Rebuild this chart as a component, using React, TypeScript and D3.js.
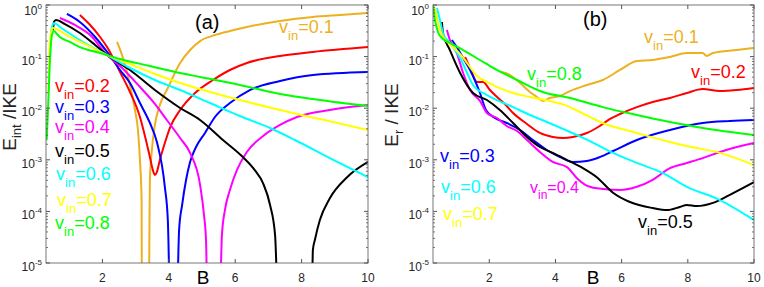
import React from 'react';
import * as d3 from 'd3';

type Pt = [number, number];

const speeds = ['0.1', '0.2', '0.3', '0.4', '0.5', '0.6', '0.7', '0.8'];
const colors = ['#EDB120', '#FF0000', '#0000FF', '#FF00FF', '#000000', '#00FFFF', '#FFFF00', '#00FF00'];
const xTicks = [2, 4, 6, 8, 10];
const yExps = [0, -1, -2, -3, -4, -5];

// panel (a): E_int / IKE, branches split where the curve drops through zero
const aOrange: Pt[][] = [
  [[2.44, 0.192], [2.59, 0.107], [2.74, 0.0503], [2.86, 0.0225], [2.98, 0.00923], [3.07, 0.00378], [3.13, 0.00099], [3.18, 0.000166], [3.19, 1e-6]],
  [[3.4, 1e-6], [3.42, 0.000106], [3.43, 0.00041], [3.49, 0.00155], [3.58, 0.00473], [3.73, 0.0115], [3.97, 0.0246], [4.34, 0.075], [4.64, 0.134], [4.94, 0.2], [5.39, 0.262], [5.84, 0.313], [6.35, 0.375], [7.35, 0.49], [8.34, 0.585], [9.16, 0.64], [10, 0.7]],
];
const aRed: Pt[][] = [
  [[1.32, 0.64], [1.63, 0.41], [1.93, 0.24], [2.14, 0.153], [2.53, 0.0503], [2.83, 0.0206], [3.13, 0.00675], [3.31, 0.00242], [3.43, 0.00113], [3.52, 0.00063], [3.58, 0.00051], [3.64, 0.00058], [3.73, 0.00099], [3.88, 0.00212], [4.03, 0.00413], [4.34, 0.00923], [4.79, 0.0197], [5.33, 0.0352], [5.84, 0.055], [6.35, 0.0752], [7.35, 0.103], [8.34, 0.123], [10, 0.153]],
];
const aBlue: Pt[][] = [
  [[0.93, 0.67], [1.32, 0.469], [1.78, 0.24], [2.14, 0.123], [2.53, 0.055], [2.83, 0.0308], [3.13, 0.0126], [3.43, 0.00517], [3.64, 0.00221], [3.88, 0.0003], [3.97, 6.8e-5], [4.03, 1e-6]],
  [[4.25, 1e-6], [4.31, 4.4e-5], [4.4, 0.000133], [4.52, 0.00041], [4.64, 0.00091], [4.82, 0.00177], [5.09, 0.00331], [5.39, 0.00675], [5.84, 0.0126], [6.44, 0.0225], [7.35, 0.0337], [8.34, 0.044], [10, 0.0503]],
];
const aMagenta: Pt[][] = [
  [[0.72, 0.56], [1.17, 0.41], [1.63, 0.262], [2.14, 0.107], [2.53, 0.0658], [3.13, 0.0258], [3.58, 0.0121], [3.94, 0.0059], [4.34, 0.00264], [4.64, 0.00136], [4.94, 0.00033], [5.06, 8.5e-5], [5.12, 2.8e-5], [5.16, 1e-6]],
  [[5.54, 1e-6], [5.6, 3.5e-5], [5.69, 0.000106], [5.84, 0.00026], [6.05, 0.00063], [6.35, 0.00142], [6.84, 0.00289], [7.35, 0.00473], [7.86, 0.00675], [8.85, 0.00923], [10, 0.0115]],
];
const aBlack: Pt[][] = [
  [[0.51, 0.328], [0.54, 0.469], [0.6, 0.512], [0.87, 0.428], [1.32, 0.287], [1.78, 0.168], [2.14, 0.107], [2.83, 0.055], [3.58, 0.0225], [4.34, 0.0101], [4.94, 0.0059], [5.63, 0.00242], [6.23, 0.00113], [6.59, 0.00063], [6.84, 0.00035], [7.05, 0.000133], [7.2, 3.5e-5], [7.28, 1e-6]],
  [[8.31, 1e-6], [8.34, 1.8e-5], [8.4, 2.8e-5], [8.55, 6.8e-5], [8.85, 0.00018], [9.37, 0.00046], [10, 0.00091]],
];
const aCyan: Pt[][] = [
  [[0.45, 0.3], [0.5, 0.41], [0.54, 0.448], [0.72, 0.375], [1.17, 0.24], [1.63, 0.16], [2.14, 0.107], [2.83, 0.0601], [3.58, 0.0352], [4.34, 0.0225], [5.24, 0.0126], [6.14, 0.00706], [7.05, 0.00413], [7.8, 0.00242], [8.85, 0.00108], [10, 0.00046]],
];
const aYellow: Pt[][] = [
  [[0.375, 0.0206], [0.405, 0.134], [0.45, 0.287], [0.51, 0.358], [0.72, 0.313], [1.02, 0.24], [1.47, 0.175], [2.14, 0.107], [2.83, 0.0719], [3.43, 0.0503], [4.34, 0.0308], [5.24, 0.0206], [6.14, 0.0144], [7.35, 0.00923], [8.55, 0.00618], [10, 0.00378]],
];
const aGreen: Pt[][] = [
  [[0.32, 0.0024], [0.36, 0.0092], [0.42, 0.086], [0.48, 0.262], [0.54, 0.313], [0.63, 0.274], [0.72, 0.24], [1.02, 0.192], [1.32, 0.153], [1.93, 0.117], [2.53, 0.0898], [3.43, 0.0657], [4.34, 0.0481], [4.94, 0.0403], [6.14, 0.0282], [7.35, 0.0188], [8.55, 0.0144], [10, 0.011]],
];

// panel (b): E_r / IKE
const bOrange: Pt[][] = [
  [[2.38, 0.0503], [2.63, 0.044], [2.93, 0.0308], [3.23, 0.0206], [3.44, 0.0165], [3.62, 0.0138], [3.83, 0.0158], [4.14, 0.0172], [4.44, 0.0215], [4.95, 0.0282], [5.43, 0.0352], [5.95, 0.055], [6.46, 0.0822], [6.94, 0.0859], [7.46, 0.0983], [7.97, 0.117], [8.45, 0.117], [8.57, 0.103], [8.76, 0.117], [9.48, 0.134], [10, 0.147]],
];
const bRed: Pt[][] = [
  [[1.27, 0.098], [1.42, 0.0601], [1.63, 0.0322], [1.81, 0.0322], [2.02, 0.0225], [2.17, 0.018], [2.47, 0.0121], [2.72, 0.00807], [3.14, 0.00494], [3.53, 0.00331], [3.92, 0.00277], [4.23, 0.00264], [4.53, 0.00277], [4.95, 0.00331], [5.34, 0.00452], [5.65, 0.00618], [5.95, 0.00772], [6.46, 0.0105], [6.94, 0.0132], [7.46, 0.0158], [7.97, 0.0197], [8.45, 0.0235], [8.97, 0.0215], [9.48, 0.0225], [10, 0.0246]],
];
const bBlue: Pt[][] = [
  [[0.87, 0.21], [1.02, 0.153], [1.21, 0.094], [1.42, 0.055], [1.72, 0.0197], [1.9, 0.00923], [2.17, 0.00646], [2.53, 0.00517], [2.93, 0.00378], [3.32, 0.00242], [3.74, 0.00155], [4.14, 0.00113], [4.53, 0.00091], [4.95, 0.00095], [5.34, 0.00113], [5.74, 0.00148], [6.46, 0.00242], [7.46, 0.00378], [8.45, 0.00517], [9.27, 0.00565], [10, 0.0059]],
];
const bMagenta: Pt[][] = [
  [[0.72, 0.328], [0.81, 0.21], [1.02, 0.117], [1.21, 0.0481], [1.42, 0.0225], [1.72, 0.0138], [1.93, 0.00807], [2.23, 0.00646], [2.53, 0.00452], [2.84, 0.00362], [3.14, 0.00242], [3.53, 0.00142], [3.92, 0.00091], [4.35, 0.00072], [4.65, 0.00044], [4.89, 0.00033], [5.25, 0.00028], [5.95, 0.00026], [6.46, 0.0003], [6.94, 0.00041], [7.46, 0.00069], [7.97, 0.00087], [8.45, 0.00108], [8.97, 0.00142], [9.48, 0.00177], [10, 0.00212]],
];
const bBlack: Pt[][] = [
  [[0.57, 0.469], [0.6, 0.287], [0.81, 0.134], [1.12, 0.0481], [1.51, 0.0197], [1.93, 0.0144], [2.32, 0.00923], [2.72, 0.00517], [3.14, 0.00277], [3.53, 0.00177], [3.92, 0.00136], [4.35, 0.00099], [4.83, 0.00069], [5.25, 0.00046], [5.74, 0.00023], [6.25, 0.000152], [6.94, 0.000116], [7.37, 0.000106], [7.76, 0.000122], [7.97, 0.000133], [8.27, 0.000127], [8.76, 0.000146], [9.27, 0.00021], [10, 0.00037]],
];
const bCyan: Pt[][] = [
  [[0.42, 0.875], [0.51, 0.512], [0.6, 0.287], [0.81, 0.184], [1.12, 0.094], [1.33, 0.0481], [1.51, 0.0282], [1.93, 0.018], [2.23, 0.0144], [2.72, 0.0105], [3.23, 0.00738], [3.74, 0.0054], [4.44, 0.00346], [5.04, 0.00231], [5.74, 0.00136], [6.46, 0.00087], [7.25, 0.00055], [7.97, 0.0003], [8.97, 0.000166], [10, 6.8e-5]],
];
const bYellow: Pt[][] = [
  [[0.36, 0.875], [0.42, 0.56], [0.51, 0.328], [0.63, 0.229], [0.81, 0.175], [1.12, 0.112], [1.33, 0.0752], [1.63, 0.0421], [1.93, 0.0322], [2.23, 0.0258], [2.72, 0.0197], [3.23, 0.0165], [3.83, 0.0138], [4.29, 0.0115], [4.74, 0.00844], [5.43, 0.00517], [6.46, 0.00331], [7.46, 0.00221], [7.97, 0.00185], [8.97, 0.00136], [10, 0.00079]],
];
const bGreen: Pt[][] = [
  [[0.3, 1], [0.36, 0.512], [0.45, 0.3], [0.57, 0.229], [0.81, 0.184], [1.21, 0.134], [1.72, 0.0859], [2.23, 0.055], [2.84, 0.0352], [3.62, 0.0206], [4.44, 0.0158], [5.43, 0.0105], [6.46, 0.00738], [7.46, 0.0054], [8.45, 0.00413], [10, 0.00303]],
];

const seriesA = [aOrange, aRed, aBlue, aMagenta, aBlack, aCyan, aYellow, aGreen];
const seriesB = [bOrange, bRed, bBlue, bMagenta, bBlack, bCyan, bYellow, bGreen];

// legend placement (pixel anchors) per speed index
const labelsA = [
  { i: 0, x: 279, y: 33, size: 18 },
  { i: 1, x: 55, y: 92, size: 18 },
  { i: 2, x: 55, y: 113, size: 18 },
  { i: 3, x: 55, y: 133, size: 18 },
  { i: 4, x: 55, y: 157, size: 18 },
  { i: 5, x: 56, y: 180, size: 18 },
  { i: 6, x: 57, y: 206, size: 18 },
  { i: 7, x: 55, y: 229, size: 18 },
];
const labelsB = [
  { i: 0, x: 644, y: 43, size: 18 },
  { i: 1, x: 691, y: 78, size: 18 },
  { i: 7, x: 527, y: 80, size: 18 },
  { i: 2, x: 440, y: 162, size: 18 },
  { i: 5, x: 441, y: 193, size: 18 },
  { i: 6, x: 443, y: 220, size: 18 },
  { i: 3, x: 530, y: 193, size: 16 },
  { i: 4, x: 638, y: 228, size: 18 },
];

const TOP = 5;
const BOTTOM = 263;
const font = '"Liberation Sans", Arial, Helvetica, sans-serif';
const axisColor = '#555';

function Legend({ x, y, size, i }: { x: number; y: number; size: number; i: number }) {
  const sub = Math.round(size * 0.72);
  return (
    <text x={x} y={y} fontSize={size} fill={colors[i]} fontFamily={font}>
      v
      <tspan dy={size * 0.38} fontSize={sub}>in</tspan>
      <tspan dy={-size * 0.38}>={speeds[i]}</tspan>
    </text>
  );
}

function Panel({ id, left, right, series, labels, tag, tagX, tagY }: {
  id: string; left: number; right: number; series: Pt[][][];
  labels: { i: number; x: number; y: number; size: number }[]; tag: string; tagX: number; tagY: number;
}) {
  const x = d3.scaleLinear().domain([0.3, 10]).range([left, right]);
  const y = d3.scaleLog().domain([1e-5, 1]).range([BOTTOM, TOP]);
  const line = d3.line<Pt>().x(d => x(d[0])).y(d => y(d[1])).curve(d3.curveMonotoneX);
  const minor: number[] = [];
  for (let e = -5; e < 0; e++) for (let k = 2; k <= 9; k++) minor.push(k * Math.pow(10, e));

  return (
    <g>
      <defs>
        <clipPath id={id}>
          <rect x={left} y={TOP} width={right - left} height={BOTTOM - TOP} />
        </clipPath>
      </defs>
      <g clipPath={`url(#${id})`}>
        {series.map((branches, si) =>
          branches.map((b, bi) => (
            <path key={`${si}-${bi}`} d={line(b) || ''} fill="none" stroke={colors[si]} strokeWidth={2} />
          ))
        )}
      </g>
      <rect x={left} y={TOP} width={right - left} height={BOTTOM - TOP} fill="none" stroke={axisColor} strokeWidth={0.8} />
      {xTicks.map(t => (
        <g key={t}>
          <line x1={x(t)} x2={x(t)} y1={BOTTOM} y2={BOTTOM - 4} stroke={axisColor} />
          <line x1={x(t)} x2={x(t)} y1={TOP} y2={TOP + 4} stroke={axisColor} />
          <text x={x(t)} y={282} fontSize={12} textAnchor="middle" fill="#262626" fontFamily={font}>{t}</text>
        </g>
      ))}
      {yExps.map(e => {
        const yy = y(Math.pow(10, e));
        const off = e === 0 ? 10 : 8;
        return (
          <g key={e}>
            <line x1={left} x2={left + 4} y1={yy} y2={yy} stroke={axisColor} />
            <line x1={right} x2={right - 4} y1={yy} y2={yy} stroke={axisColor} />
            <text x={left - 4} y={yy + off} fontSize={12} textAnchor="end" fill="#262626" fontFamily={font}>
              10<tspan dy={-6} fontSize={8}>{e}</tspan>
            </text>
          </g>
        );
      })}
      {minor.map(m => (
        <g key={m}>
          <line x1={left} x2={left + 2} y1={y(m)} y2={y(m)} stroke={axisColor} strokeWidth={0.8} />
          <line x1={right} x2={right - 2} y1={y(m)} y2={y(m)} stroke={axisColor} strokeWidth={0.8} />
        </g>
      ))}
      {labels.map(l => <Legend key={l.i} {...l} />)}
      <text x={tagX} y={tagY} fontSize={20} fill="#000" fontFamily={font}>{tag}</text>
    </g>
  );
}

export default function App() {
  return (
    <div style={{ position: 'fixed', left: 0, top: 0 }}>
      <svg width={764} height={287} style={{ display: 'block', background: '#fff' }}>
        <Panel id="clipA" left={46} right={368} series={seriesA} labels={labelsA} tag="(a)" tagX={195} tagY={29} />
        <Panel id="clipB" left={433} right={754} series={seriesB} labels={labelsB} tag="(b)" tagX={583} tagY={26} />
        <text x={203} y={284} fontSize={19} textAnchor="middle" fontFamily={font}>B</text>
        <text x={593} y={284} fontSize={19} textAnchor="middle" fontFamily={font}>B</text>
        <text transform="translate(16,117) rotate(-90)" fontSize={19} textAnchor="middle" fill="#262626" fontFamily={font}>
          E<tspan dy={5} fontSize={13}>int</tspan><tspan dy={-5}> /IKE</tspan>
        </text>
        <text transform="translate(398,115) rotate(-90)" fontSize={19} textAnchor="middle" fill="#262626" fontFamily={font}>
          E<tspan dy={5} fontSize={13}>r</tspan><tspan dy={-5}> / IKE</tspan>
        </text>
      </svg>
    </div>
  );
}
